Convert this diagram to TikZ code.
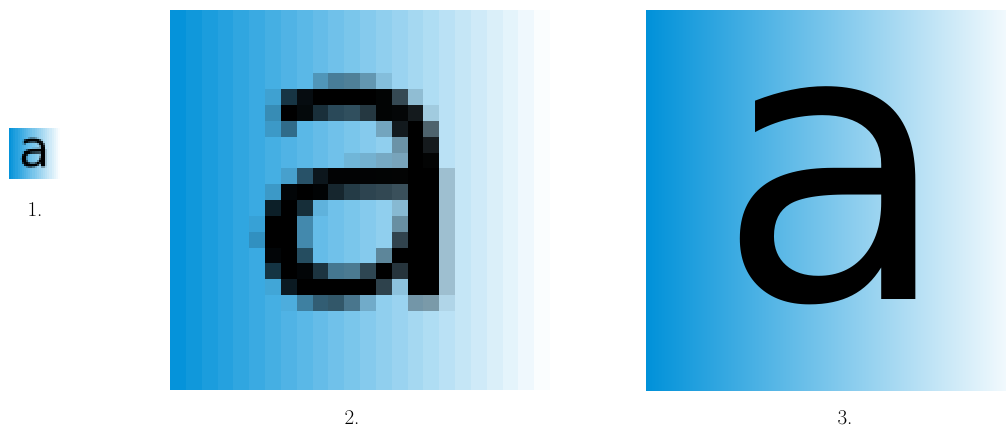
\documentclass[tikz,border=0pt]{standalone}
\usepackage{fontspec}
\newfontfamily\glyphfont{DejaVu Sans}
\definecolor{sky}{RGB}{0,145,217}
\tikzset{
  caption/.style={inner sep=0pt, anchor=base, font=\fontsize{21}{24}\selectfont},
}
% A 24x24 raster of the letter "a" over a stepped blue-to-white ramp.
% Each entry: column/row/ink coverage.
\newcommand\rasterglyph{%
  \foreach \c in {0,...,23}{%
    \pgfmathsetmacro\shadeval{100-100*(\c+0.5)/24}%
    \pgfmathsetmacro\rightedge{min(\c+1.03,24)}%
    \fill[sky!\shadeval!white] (\c,0) rectangle (\rightedge,24);
  }%
  \foreach \i/\j/\a in {
    9/4/.2, 10/4/.35, 11/4/.35, 12/4/.25, 13/4/.08,
    6/5/.08, 7/5/.7, 8/5/.93, 9/5/1, 10/5/1, 11/5/1, 12/5/1, 13/5/.98, 14/5/.65, 15/5/.12,
    6/6/.2, 7/6/1, 8/6/.95, 9/6/.75, 10/6/.62, 11/6/.6, 12/6/.72, 13/6/.98, 14/6/.97, 15/6/.88, 16/6/.08,
    6/7/.12, 7/7/.4, 13/7/.2, 14/7/.88, 15/7/1, 16/7/.55,
    14/8/.3, 15/8/1, 16/8/.88,
    11/9/.08, 12/9/.12, 13/9/.18, 14/9/.22, 15/9/1, 16/9/.98,
    7/10/.1, 8/10/.55, 9/10/.88, 10/10/.98, 11/10/.98, 12/10/.98, 13/10/.98, 14/10/.98, 15/10/1, 16/10/1, 17/10/.15,
    6/11/.12, 7/11/.97, 8/11/1, 9/11/.98, 10/11/.8, 11/11/.7, 12/11/.66, 13/11/.65, 14/11/.62, 15/11/1, 16/11/1, 17/11/.15,
    6/12/.82, 7/12/1, 8/12/.75, 9/12/.05, 14/12/.12, 15/12/1, 16/12/1, 17/12/.15,
    5/13/.05, 6/13/1, 7/13/1, 8/13/.25, 14/13/.32, 15/13/1, 16/13/1, 17/13/.15,
    5/14/.15, 6/14/1, 7/14/1, 8/14/.25, 14/14/.68, 15/14/1, 16/14/1, 17/14/.15,
    6/15/.97, 7/15/1, 8/15/.58, 13/15/.35, 14/15/1, 15/15/1, 16/15/1, 17/15/.15,
    6/16/.7, 7/16/1, 8/16/.97, 9/16/.72, 10/16/.38, 11/16/.38, 12/16/.65, 13/16/1, 14/16/.75, 15/16/1, 16/16/1, 17/16/.15,
    6/17/.05, 7/17/.85, 8/17/1, 9/17/1, 10/17/1, 11/17/1, 12/17/1, 13/17/.68, 14/17/.08, 15/17/1, 16/17/1, 17/17/.15,
    7/18/.03, 8/18/.3, 9/18/.5, 10/18/.55, 11/18/.4, 12/18/.15, 15/18/.3, 16/18/.3, 17/18/.05}{%
    \fill[black, fill opacity=\a] (\i,\j) rectangle (\i+1,\j+1);
  }%
}
\begin{document}
\begin{tikzpicture}[x=1pt, y=-1pt]
\useasboundingbox (0,0) rectangle (1006,432);

% 1. the raster at its native size
\begin{scope}[xshift=9pt, yshift=-128pt, x=2.125pt, y=-2.125pt]
  \rasterglyph
\end{scope}
\node[caption] (lab1) at (35,216) {1.};

% 2. the same raster enlarged
\begin{scope}[xshift=170pt, yshift=-10pt, x=15.8333pt, y=-15.8333pt]
  \rasterglyph
\end{scope}
\node[caption] (lab2) at (352,424) {2.};

% 3. the outline letter over a smooth ramp
\begin{scope}
  \clip (646,10) rectangle (1006,390);
  \shade[left color=sky, right color=white] (646,10) rectangle (1026,390);
\end{scope}
\node[inner sep=0pt, anchor=base, font=\glyphfont\fontsize{380}{390}\selectfont] (bigA) at (834,299) {a};
\node[caption] (lab3) at (845,424) {3.};
\end{tikzpicture}
\end{document}
